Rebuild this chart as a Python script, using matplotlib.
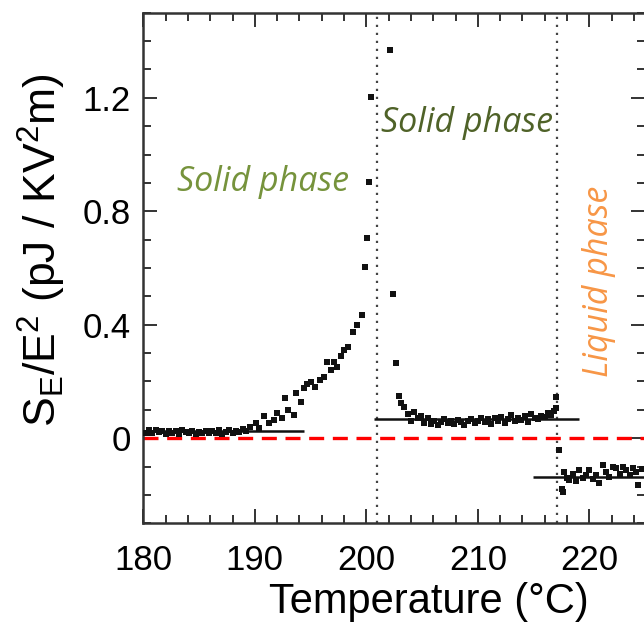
import matplotlib
matplotlib.use("Agg")
import matplotlib.pyplot as plt
from matplotlib.ticker import MultipleLocator, FuncFormatter

# ---- data ----
# solid phase I (180-200.5 C)
t1 = [180.2, 180.5, 180.8, 181.1, 181.4, 181.7, 182.0, 182.3, 182.6, 182.9,
      183.2, 183.5, 183.8, 184.1, 184.4, 184.7, 185.0, 185.3, 185.6, 185.9,
      186.2, 186.5, 186.8, 187.1, 187.4, 187.7, 188.0, 188.3, 188.6, 188.9,
      189.2, 189.6, 190.1, 190.4, 190.8, 191.3, 191.7, 192.0, 192.4, 192.7,
      193.0, 193.5, 193.7, 194.1, 194.4, 194.7, 195.0, 195.4, 195.8, 196.2,
      196.5, 196.8, 197.1, 197.4, 197.7, 198.0, 198.4, 198.8, 199.2, 199.6,
      199.9, 200.1, 200.2, 200.4]
s1 = [0.020, 0.028, 0.018, 0.030, 0.022, 0.025, 0.015, 0.027, 0.020, 0.024,
      0.016, 0.028, 0.021, 0.018, 0.026, 0.014, 0.023, 0.019, 0.027, 0.017,
      0.025, 0.020, 0.030, 0.015, 0.022, 0.028, 0.018, 0.026, 0.021, 0.032,
      0.024, 0.040, 0.052, 0.035, 0.078, 0.055, 0.064, 0.088, 0.070, 0.142,
      0.100, 0.082, 0.158, 0.129, 0.176, 0.190, 0.199, 0.180, 0.205, 0.217,
      0.270, 0.240, 0.270, 0.252, 0.290, 0.311, 0.320, 0.375, 0.400, 0.434,
      0.602, 0.705, 0.904, 1.204]

# solid phase II (201-217 C)
t2 = [202.1, 202.4, 202.7, 202.9, 203.1, 203.4, 203.7, 204.0, 204.3, 204.6,
      204.9, 205.2, 205.5, 205.8, 206.1, 206.4, 206.7, 207.0, 207.3, 207.6,
      207.9, 208.2, 208.5, 208.8, 209.1, 209.4, 209.7, 210.0, 210.3, 210.6,
      210.9, 211.2, 211.5, 211.8, 212.1, 212.4, 212.7, 213.0, 213.3, 213.6,
      213.9, 214.2, 214.5, 214.8, 215.1, 215.4, 215.7, 216.0, 216.3, 216.6,
      216.8, 217.0, 217.0]
s2 = [1.368, 0.508, 0.266, 0.149, 0.123, 0.111, 0.085, 0.060, 0.092, 0.070,
      0.080, 0.055, 0.072, 0.050, 0.062, 0.048, 0.058, 0.066, 0.052, 0.060,
      0.050, 0.064, 0.056, 0.047, 0.060, 0.068, 0.054, 0.062, 0.072, 0.058,
      0.066, 0.050, 0.070, 0.062, 0.076, 0.055, 0.068, 0.082, 0.060, 0.072,
      0.064, 0.078, 0.058, 0.086, 0.070, 0.066, 0.080, 0.074, 0.090, 0.082,
      0.095, 0.106, 0.146]

# liquid phase (217-225 C)
t3 = [217.3, 217.5, 217.6, 217.7, 218.0, 218.2, 218.5, 218.8, 219.1, 219.4,
      219.7, 220.0, 220.3, 220.6, 220.9, 221.2, 221.5, 221.8, 222.1, 222.4,
      222.7, 223.0, 223.3, 223.6, 223.9, 224.2, 224.4, 224.7]
s3 = [-0.042, -0.180, -0.189, -0.118, -0.140, -0.147, -0.125, -0.150, -0.112, -0.140,
      -0.128, -0.112, -0.145, -0.130, -0.159, -0.094, -0.120, -0.135, -0.100, -0.106,
      -0.125, -0.100, -0.112, -0.130, -0.105, -0.120, -0.165, -0.110]

# fitted mean levels: (x start, x end, level)
fit_x = [(180.0, 194.4), (200.7, 219.1), (214.9, 225.5)]
fit_y = [0.025, 0.067, -0.138]

transitions = [201.0, 217.1]

phase_labels = ["Solid phase", "Solid phase", "Liquid phase"]
phase_colors = ["#76933C", "#4F6228", "#F79646"]
phase_pos = [(190.7, 0.903), (209.0, 1.111), (220.9, 0.554)]
phase_rot = [0, 0, 90]

# ---- figure ----
fig = plt.figure(figsize=(6.44, 6.25), dpi=100)
ax = fig.add_axes([0.2225, 0.1627, 0.7793, 0.8170])

ax.set_xlim(180, 225)
ax.set_ylim(-0.3, 1.5)

for xv in transitions:
    ax.axvline(xv, color="#444444", lw=1.6, ls=(0, (1.0, 2.6)), zorder=1)

ax.axhline(0, color="#ff0000", lw=2.4, dashes=(4.5, 2.6), zorder=2, clip_on=False)

for (xa, xb), yv in zip(fit_x, fit_y):
    ax.plot([xa, xb], [yv, yv], color="#111111", lw=1.8, zorder=3, solid_capstyle="butt")

for tt, ss in [(t1, s1), (t2, s2), (t3, s3)]:
    ax.plot(tt, ss, ls="none", marker="s", ms=3.8, color="#111111", mew=0, zorder=4)

# ticks
ax.xaxis.set_major_locator(MultipleLocator(10))
ax.xaxis.set_minor_locator(MultipleLocator(2))
ax.yaxis.set_major_locator(MultipleLocator(0.4))
ax.yaxis.set_minor_locator(MultipleLocator(0.1))
ax.yaxis.set_major_formatter(FuncFormatter(lambda v, p: "0" if abs(v) < 1e-9 else f"{v:.1f}"))
ax.tick_params(which="both", direction="in", top=True, right=True, color="#333333")
ax.tick_params(which="major", length=10, width=1.4, labelsize=25, pad=15)
ax.tick_params(which="minor", length=6, width=1.4)
ax.tick_params(axis="y", which="major", pad=9)
for lab in ax.get_xticklabels() + ax.get_yticklabels():
    lab.set_fontfamily("Liberation Sans")
for sp in ax.spines.values():
    sp.set_linewidth(1.8)
    sp.set_color("#333333")

ax.set_xlabel("Temperature (°C)", fontsize=30, family="Liberation Sans")
ax.xaxis.set_label_coords(0.57, -0.115)
ax.set_ylabel(r"S$_\mathregular{E}$/E$^\mathregular{2}$ (pJ / KV$^\mathregular{2}$m)",
              fontsize=32, family="Liberation Sans")
ax.yaxis.set_label_coords(-0.172, 0.535)
ax.yaxis.label.set_verticalalignment("baseline")

for txt, col, (px, py), rot in zip(phase_labels, phase_colors, phase_pos, phase_rot):
    ax.text(px, py, txt, color=col, fontsize=24.5, style="italic",
            family="Open Sans", ha="center", va="center", rotation=rot)

fig.savefig("out.png", dpi=100)
